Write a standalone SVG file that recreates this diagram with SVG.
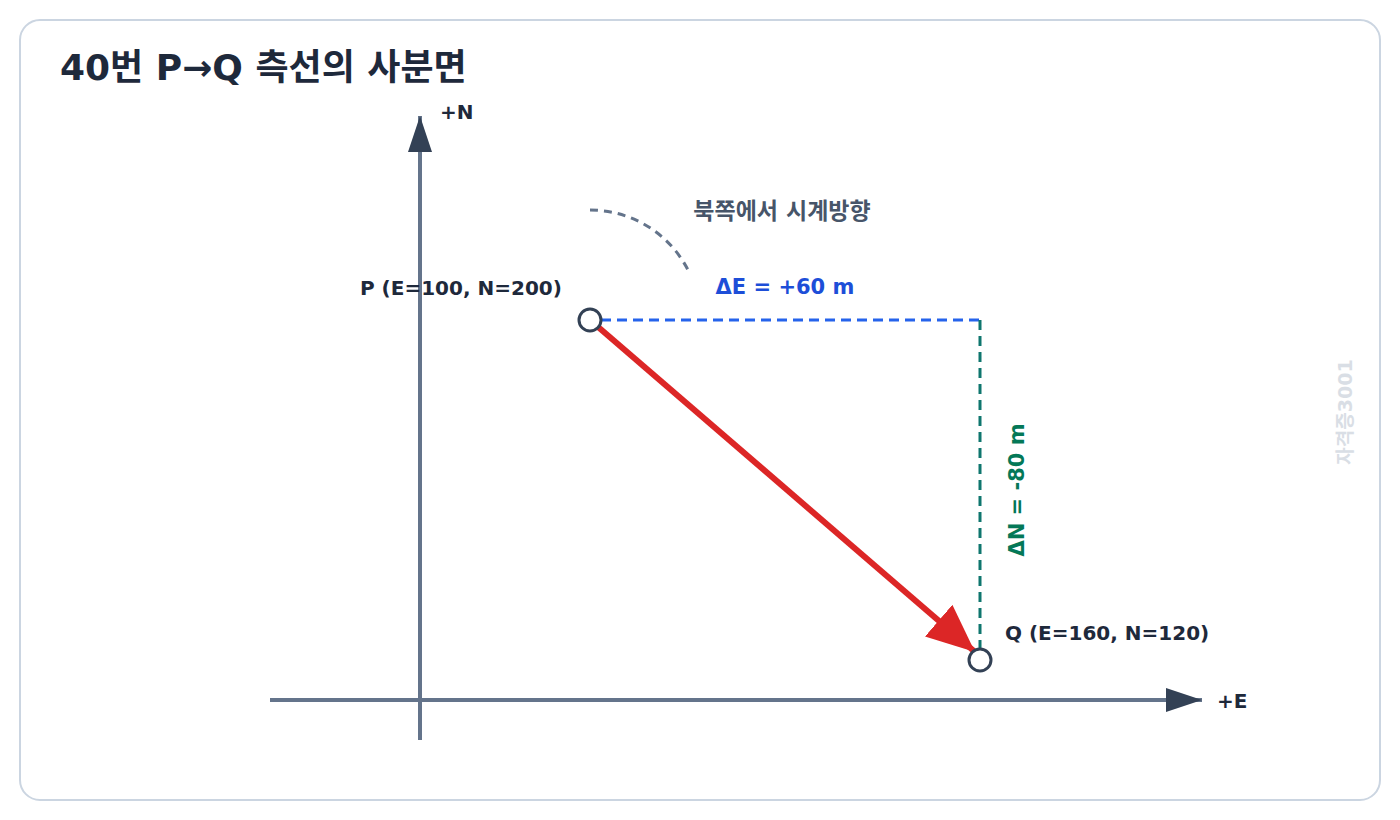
<svg xmlns="http://www.w3.org/2000/svg" width="1400" height="820" viewBox="0 0 1400 820">
<defs>
<style>
text{font-family:"DejaVu Sans","Noto Sans CJK KR",sans-serif;font-weight:700}
.title{font-size:36px;fill:#1e293b}
.lbl{font-size:20px;fill:#1e293b}
.axis{stroke:#64748b;stroke-width:4;fill:none}
.pt{fill:#ffffff;stroke:#334155;stroke-width:3}
</style>
<marker id="axHead" viewBox="0 0 36 24" refX="36" refY="12" markerWidth="36" markerHeight="24" markerUnits="userSpaceOnUse" orient="auto">
<path d="M0,0 L36,12 L0,24 Z" fill="#334155"/>
</marker>
<marker id="redHead" viewBox="0 0 48 42" refX="48" refY="21" markerWidth="48" markerHeight="42" markerUnits="userSpaceOnUse" orient="auto">
<path d="M0,0 L48,21 L0,42 Z" fill="#dc2626"/>
</marker>
</defs>
<rect x="20" y="20" width="1360" height="780" rx="20" fill="#ffffff" stroke="#cbd5e1" stroke-width="2"/>
<text class="title" x="60" y="80">40번 P→Q 측선의 사분면</text>
<text x="1352" y="412" font-size="19" fill="#d9dee5" text-anchor="middle" transform="rotate(-90 1352 412)">자격증3001</text>
<g id="axes">
<line class="axis" x1="420" y1="740" x2="420" y2="116" marker-end="url(#axHead)"/>
<line class="axis" x1="270" y1="700" x2="1202" y2="700" marker-end="url(#axHead)"/>
<text class="lbl" x="440" y="119">+N</text>
<text class="lbl" x="1217" y="708">+E</text>
</g>
<g id="connectors">
<path d="M590,210 A110,110 0 0 1 688,270" fill="none" stroke="#64748b" stroke-width="3" stroke-dasharray="8 6"/>
<line x1="601" y1="320" x2="980" y2="320" stroke="#2563eb" stroke-width="3" stroke-dasharray="10 6"/>
<line x1="980" y1="320" x2="980" y2="649" stroke="#0f766e" stroke-width="3" stroke-dasharray="10 6"/>
<line x1="590" y1="320" x2="975" y2="652" stroke="#dc2626" stroke-width="6" marker-end="url(#redHead)"/>
</g>
<text x="782" y="219" font-size="23" fill="#475569" text-anchor="middle">북쪽에서 시계방향</text>
<text x="785" y="294" font-size="21" fill="#1d4ed8" text-anchor="middle">ΔE = +60 m</text>
<text x="1024" y="490" font-size="21" fill="#047857" text-anchor="middle" transform="rotate(-90 1024 490)">ΔN = -80 m</text>
<g id="P">
<circle class="pt" cx="590" cy="320" r="11"/>
<text class="lbl" x="360" y="295">P (E=100, N=200)</text>
</g>
<g id="Q">
<circle class="pt" cx="980" cy="660" r="11"/>
<text class="lbl" x="1005" y="640">Q (E=160, N=120)</text>
</g>
</svg>
